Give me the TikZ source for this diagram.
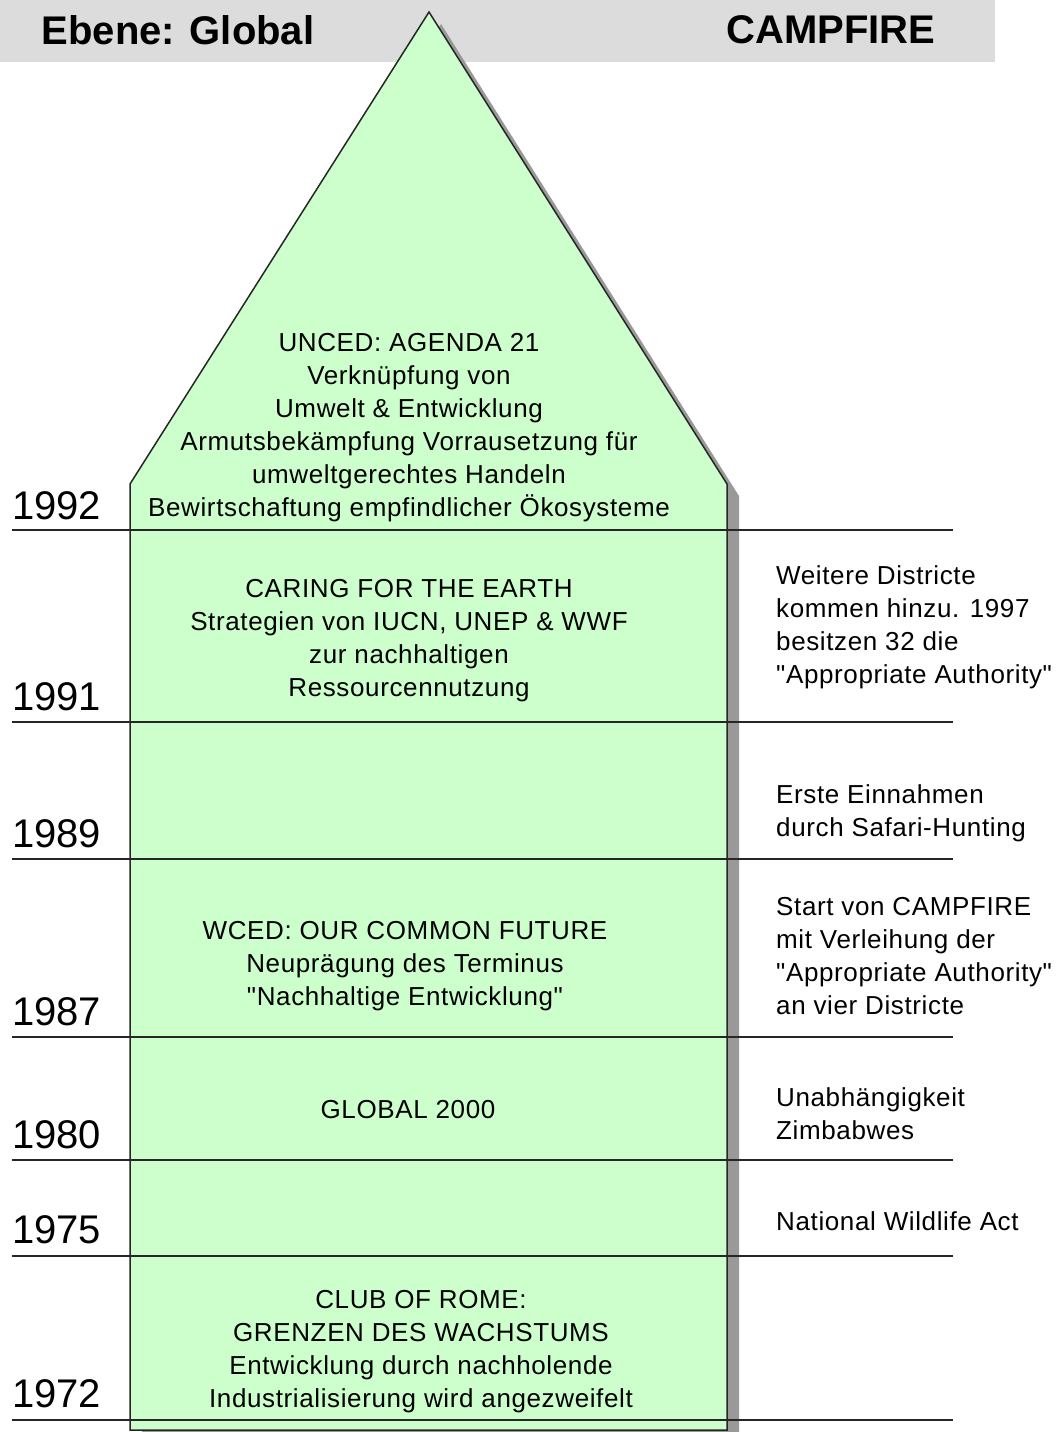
\documentclass[tikz,border=0pt]{standalone}
\usepackage{fontspec}
\setmainfont{Liberation Sans}
\newfontfamily\boxfont{Liberation Sans}[LetterSpace=2.4]
\newcommand{\dq}{\symbol{34}}
\definecolor{headgray}{HTML}{DCDCDC}
\definecolor{housegreen}{HTML}{CCFFCC}
\definecolor{shadowgray}{HTML}{999999}
\begin{document}
\begin{tikzpicture}
      [   x=1pt,y=-1pt,
          txt/.style={align=center,inner sep=0pt,font=\boxfont\fontsize{26}{33}\selectfont},
          rtxt/.style={align=left,anchor=west,inner sep=0pt,font=\boxfont\fontsize{26}{33}\selectfont},
          year/.style={anchor=base west,inner sep=0pt,font=\fontsize{40}{40}\selectfont},
          head/.style={inner sep=0pt,font=\fontsize{40}{40}\selectfont\bfseries},
          sep/.style={draw=black!85,line width=1.5pt},
      ]
          \useasboundingbox (0,0) rectangle (1056,1432);
          \fill[headgray] (0,0) rectangle (995,62);
          \node[head] (ebene) at (178,30) {Ebene: Global};
          \node[head] (campfire) at (831,30) {CAMPFIRE};

          % house with shadow
          \fill[shadowgray,shift={(12,12)}] (130,1430) -- (130,484) -- (429,12) -- (727,484) -- (727,1430) -- cycle;
          \draw[fill=housegreen,draw=black!85,line width=1.5pt] (130,1430) -- (130,484) -- (429,12) -- (727,484) -- (727,1430) -- cycle;

          % time lines
          \draw[sep] (12,530) -- (953,530);
          \draw[sep] (12,722) -- (953,722);
          \draw[sep] (12,859) -- (953,859);
          \draw[sep] (12,1037) -- (953,1037);
          \draw[sep] (12,1160) -- (953,1160);
          \draw[sep] (12,1256) -- (953,1256);
          \draw[sep] (12,1420) -- (953,1420);

          \node[year] (y92) at (12,519) {1992};
          \node[year] (y91) at (12,710) {1991};
          \node[year] (y89) at (12,847) {1989};
          \node[year] (y87) at (12,1025) {1987};
          \node[year] (y80) at (12,1148) {1980};
          \node[year] (y75) at (12,1243) {1975};
          \node[year] (y72) at (12,1407) {1972};

          % global
          \node[txt] (unced) at (409,428) {UNCED: AGENDA 21\\Verknüpfung von\\Umwelt \& Entwicklung\\Armutsbekämpfung Vorrausetzung für\\umweltgerechtes Handeln\\Bewirtschaftung empfindlicher Ökosysteme};
          \node[txt] (caring) at (409,641) {CARING FOR THE EARTH\\Strategien von IUCN, UNEP \& WWF\\zur nachhaltigen\\Ressourcennutzung};
          \node[txt] (wced) at (405,966) {WCED: OUR COMMON FUTURE\\Neuprägung des Terminus\\\dq Nachhaltige Entwicklung\dq};
          \node[txt] (global) at (408,1110) {GLOBAL 2000};
          \node[txt] (rome) at (421,1352) {CLUB OF ROME:\\GRENZEN DES WACHSTUMS\\Entwicklung durch nachholende\\Industrialisierung wird angezweifelt};

          % campfire
          \node[rtxt] (districte) at (776,627) {Weitere Districte\\kommen hinzu. 1997\\besitzen 32 die\\\dq Appropriate Authority\dq};
          \node[rtxt] (einnahmen) at (776,813) {Erste Einnahmen\\durch Safari-Hunting};
          \node[rtxt] (start) at (776,956) {Start von CAMPFIRE\\mit Verleihung der\\\dq Appropriate Authority\dq\\an vier Districte};
          \node[rtxt] (unab) at (776,1114) {Unabhängigkeit\\Zimbabwes};
          \node[rtxt] (wildlife) at (776,1221) {National Wildlife Act};
    \end{tikzpicture}
\end{document}
